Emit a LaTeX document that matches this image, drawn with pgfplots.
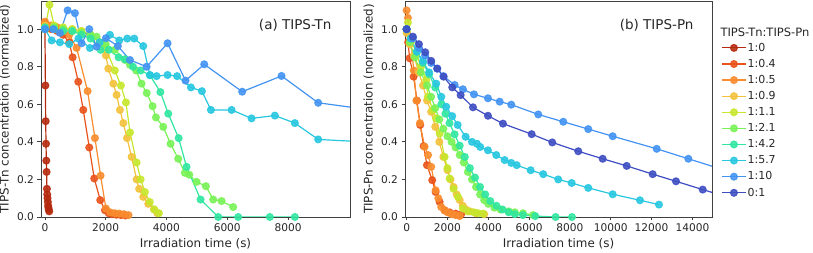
\documentclass[border=0pt]{standalone}
\usepackage{fontspec}
\setmainfont{DejaVu Sans}
\usepackage{pgfplots}
\pgfplotsset{compat=1.18}
\definecolor{cA}{HTML}{B52A0E}
\definecolor{cB}{HTML}{E9531B}
\definecolor{cC}{HTML}{F98C2E}
\definecolor{cD}{HTML}{F3C23C}
\definecolor{cE}{HTML}{C6E72D}
\definecolor{cF}{HTML}{78F256}
\definecolor{cG}{HTML}{31E6A0}
\definecolor{cH}{HTML}{27C7E0}
\definecolor{cI}{HTML}{4393F2}
\definecolor{cJ}{HTML}{3E4EC2}
\pgfplotsset{
 myax/.style={
  scale only axis, width=309pt, height=216pt,
  ymin=0, ymax=1.15, ytick={0,0.2,0.4,0.6,0.8,1.0},
  yticklabel style={/pgf/number format/fixed,/pgf/number format/fixed zerofill,/pgf/number format/precision=1},
  scaled ticks=false,
  xticklabel style={/pgf/number format/1000 sep={}},
  /pgf/number format/assume math mode=true,
  tick align=outside, tick pos=left, major tick length=3.5pt,
  axis line style={black!75, line width=0.9pt},
  every tick/.style={black!75, line width=0.8pt},
  tick label style={font=\fontsize{10.6}{12}\selectfont, text=black!85},
  label style={font=\fontsize{11.9}{13}\selectfont, text=black!85},
  xlabel={Irradiation time (s)},
  every axis plot/.append style={line width=1.2pt, mark=*, mark size=3.4pt},
 },
 s/.style={color=#1, mark options={solid, fill=#1, draw=#1, fill opacity=0.88, draw opacity=0.88}},
}
\begin{document}
\begin{tikzpicture}
\useasboundingbox (0,0) rectangle (813pt,253pt);
% ---------------- panel (a)
\begin{axis}[myax, name=L, at={(41pt,36pt)}, anchor=south west,
  xmin=-130, xmax=10040, xtick={0,2000,4000,6000,8000},
  ylabel={TIPS-Tn concentration (normalized)}]
\addplot[s=cA] coordinates {(0,1.00)(15,0.70)(25,0.51)(35,0.39)(45,0.30)(55,0.24)(65,0.15)(75,0.12)(85,0.10)(95,0.08)(105,0.06)(115,0.05)(125,0.04)(140,0.03)};
\addplot[s=cB] coordinates {(0,1.03)(200,1.00)(400,0.99)(600,0.97)(800,0.93)(911,0.85)(1097,0.72)(1261,0.57)(1459,0.37)(1623,0.205)(1820,0.09)(1974,0.036)(2100,0.02)(2200,0.015)(2350,0.012)(2500,0.01)(2650,0.008)};
\addplot[s=cC] coordinates {(0,1.04)(200,1.02)(400,1.01)(600,1.0)(800,0.97)(1042,0.90)(1404,0.67)(1645,0.42)(1832,0.22)(2007,0.045)(2150,0.025)(2300,0.02)(2450,0.018)(2600,0.015)(2750,0.01)};
\addplot[s=cD] coordinates {(0,1.02)(300,1.01)(600,1.0)(900,1.0)(1200,0.99)(1500,0.97)(1800,0.93)(2007,0.86)(2084,0.79)(2250,0.71)(2358,0.65)(2468,0.57)(2580,0.50)(2700,0.42)(2852,0.32)(3017,0.20)(3100,0.15)(3235,0.107)(3400,0.07)(3586,0.04)(3700,0.02)};
\addplot[s=cE] coordinates {(0,1.0)(150,1.13)(300,1.02)(600,1.01)(900,1.0)(1200,0.99)(1500,0.97)(1800,0.93)(2000,0.9)(2300,0.78)(2500,0.70)(2665,0.61)(2800,0.45)(3017,0.29)(3150,0.20)(3290,0.133)(3450,0.08)(3600,0.04)(3750,0.02)};
\addplot[s=cF] coordinates {(0,1.0)(300,1.01)(600,1.0)(900,0.99)(1200,0.98)(1500,0.97)(1700,0.96)(2000,0.92)(2300,0.89)(2632,0.836)(2797,0.81)(3000,0.78)(3180,0.71)(3350,0.66)(3542,0.59)(3652,0.53)(3893,0.48)(4134,0.39)(4387,0.31)(4606,0.235)(4750,0.225)(4990,0.187)(5297,0.164)(5538,0.093)(5813,0.085)(6195,0.053)};
\addplot[s=cG] coordinates {(0,1.01)(300,1.0)(600,0.99)(900,0.99)(1200,0.97)(1500,0.95)(1832,0.89)(2100,0.89)(2424,0.85)(2632,0.84)(2900,0.80)(3150,0.78)(3454,0.755)(3800,0.665)(4058,0.55)(4400,0.42)(4661,0.267)(5122,0.093)(5703,0.0)(6360,0.0)(7400,0.0)(8225,0.0)};
\addplot[s=cH] coordinates {(0,1.0)(220,0.94)(493,0.93)(800,0.92)(1100,0.95)(1480,0.90)(1800,0.93)(2139,0.97)(2446,0.94)(2710,0.95)(2939,0.95)(3235,0.91)(3454,0.756)(3674,0.75)(4036,0.756)(4350,0.75)(4804,0.69)(5166,0.67)(5462,0.57)(6144,0.57)(6799,0.525)(7567,0.54)(8225,0.50)(8993,0.413)(10500,0.40)};
\addplot[s=cI] coordinates {(0,1.0)(274,1.0)(493,0.98)(746,1.10)(987,1.085)(1207,0.925)(1459,1.0)(1700,0.907)(2007,0.952)(2400,0.91)(2797,0.836)(3345,0.80)(4036,0.925)(4628,0.726)(5242,0.813)(6492,0.667)(7786,0.751)(8993,0.608)(10500,0.575)};
\end{axis}
\node[anchor=east, font=\fontsize{13.5}{15}\selectfont, text=black!85, xshift=-15pt, yshift=-24pt] at (L.north east) {(a) TIPS-Tn};
% ---------------- panel (b)
\begin{axis}[myax, name=R, at={(405pt,36pt)}, anchor=south west, width=307pt,
  xmin=-80, xmax=14960, xtick={0,2000,4000,6000,8000,10000,12000,14000},
  ylabel={TIPS-Pn concentration (normalized)},
  legend cell align=left,
  legend image code/.code={\draw[mark repeat=2,mark phase=2] plot coordinates {(0pt,0pt)(12pt,0pt)(24pt,0pt)};},
  legend style={at={(1.02,0.822)}, anchor=north west, draw=none, fill=none,
     font=\fontsize{11}{13}\selectfont, text=black!85,
     nodes={inner sep=1pt, text height=8.5pt, text depth=2pt}, row sep=3.6pt,
     /tikz/every even column/.append style={column sep=5pt}}]
\addlegendimage{s=cA, line width=1.2pt, mark=*, mark size=3.4pt}
\addlegendentry{1:0}
\addplot[s=cB] coordinates {(0,1.0)(70,0.93)(147,0.845)(343,0.747)(505,0.62)(666,0.49)(833,0.377)(995,0.276)(1254,0.196)(1421,0.133)(1617,0.08)(1862,0.036)(2100,0.025)(2400,0.018)(2676,0.015)};
\addlegendentry{1:0.4}
\addplot[s=cC] coordinates {(0,1.10)(64,1.06)(200,0.95)(350,0.78)(480,0.62)(650,0.50)(882,0.374)(1050,0.33)(1205,0.267)(1421,0.142)(1550,0.10)(1695,0.053)(1850,0.035)(2000,0.025)(2200,0.015)(2400,0.01)(2597,0.005)};
\addlegendentry{1:0.5}
\addplot[s=cD] coordinates {(0,0.98)(150,0.92)(350,0.86)(600,0.77)(800,0.70)(1000,0.62)(1200,0.56)(1400,0.48)(1600,0.40)(1800,0.32)(2000,0.25)(2150,0.20)(2300,0.16)(2450,0.12)(2600,0.09)(2750,0.06)(2900,0.04)(3100,0.03)(3400,0.02)(3800,0.015)};
\addlegendentry{1:0.9}
\addplot[s=cE] coordinates {(0,1.0)(64,1.035)(250,0.94)(470,0.87)(700,0.80)(960,0.73)(1044,0.64)(1289,0.57)(1450,0.525)(1617,0.445)(1862,0.32)(2000,0.26)(2107,0.205)(2300,0.15)(2514,0.107)(2759,0.045)(3000,0.03)(3300,0.025)(3500,0.02)(3739,0.018)};
\addlegendentry{1:1.1}
\addplot[s=cF] coordinates {(0,1.0)(150,0.93)(400,0.85)(700,0.77)(1000,0.70)(1200,0.64)(1400,0.58)(1600,0.52)(1800,0.47)(2000,0.43)(2200,0.40)(2400,0.37)(2600,0.33)(2800,0.29)(3000,0.24)(3200,0.20)(3400,0.16)(3600,0.12)(3800,0.09)(4000,0.07)(4300,0.05)(4600,0.04)(5000,0.03)(5300,0.025)(5700,0.02)(6200,0.01)};
\addlegendentry{1:2.1}
\addplot[s=cG] coordinates {(0,1.0)(200,0.95)(500,0.88)(800,0.82)(1100,0.76)(1400,0.69)(1700,0.60)(1900,0.55)(2100,0.50)(2350,0.44)(2600,0.38)(2850,0.32)(3100,0.26)(3350,0.21)(3600,0.16)(3850,0.12)(4100,0.085)(4400,0.06)(4700,0.04)(5000,0.025)(5300,0.015)(5700,0.01)(6300,0.005)(7300,0.0)(8100,0.0)};
\addlegendentry{1:4.2}
\addplot[s=cH] coordinates {(0,1.0)(200,0.95)(500,0.88)(800,0.83)(1100,0.77)(1450,0.71)(1700,0.64)(1940,0.587)(2234,0.537)(2500,0.49)(2891,0.427)(3200,0.40)(3445,0.39)(3607,0.373)(3984,0.355)(4390,0.33)(4802,0.303)(5126,0.288)(5390,0.276)(6076,0.249)(6693,0.228)(7428,0.20)(8085,0.181)(8898,0.155)(10094,0.121)(11432,0.089)(12363,0.066)};
\addlegendentry{1:5.7}
\addplot[s=cI] coordinates {(0,1.0)(300,0.95)(600,0.90)(900,0.86)(1200,0.82)(1500,0.79)(1800,0.75)(2352,0.703)(2759,0.68)(3298,0.653)(3984,0.632)(4557,0.614)(5126,0.598)(6449,0.546)(7673,0.507)(8898,0.468)(10094,0.43)(12250,0.363)(13800,0.31)(15500,0.252)};
\addlegendentry{1:10}
\addplot[s=cJ] coordinates {(0,1.0)(309,0.96)(603,0.92)(911,0.877)(1205,0.831)(1499,0.79)(1813,0.747)(2234,0.69)(2646,0.649)(3249,0.584)(3984,0.539)(4719,0.497)(6125,0.441)(7135,0.397)(8409,0.35)(9604,0.31)(10780,0.272)(12054,0.228)(13196,0.19)(14504,0.146)(15500,0.113)};
\addlegendentry{0:1}
\end{axis}
\node[anchor=east, font=\fontsize{13.5}{15}\selectfont, text=black!85, xshift=-15pt, yshift=-24pt] at (R.north east) {(b) TIPS-Pn};
\node[anchor=west, font=\fontsize{11.5}{13}\selectfont, text=black!85, xshift=5pt, yshift=-31.7pt] at (R.north east) {TIPS-Tn:TIPS-Pn};
\end{tikzpicture}
\end{document}
